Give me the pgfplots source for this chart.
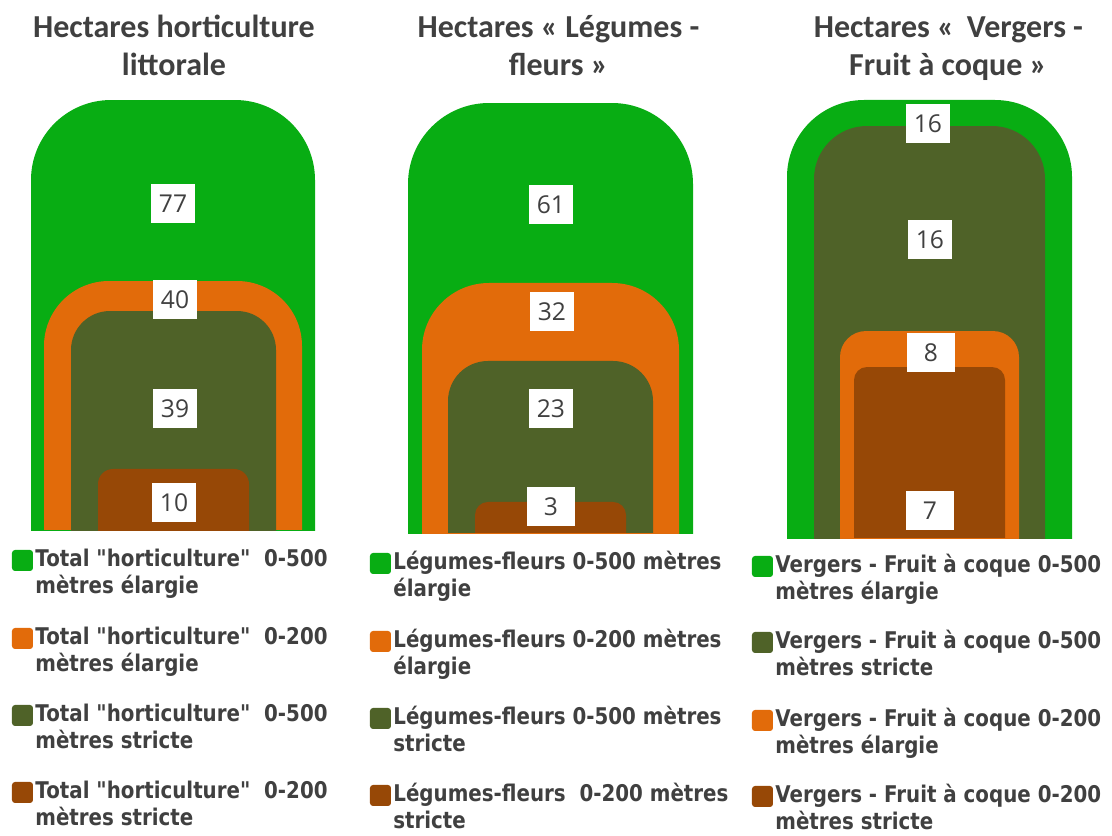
\documentclass[border=0pt]{standalone}
\usepackage{pgfplots}
\pgfplotsset{compat=1.18}
\usepackage{fontspec}
\setmainfont{Carlito}
\newfontfamily\numfont{Open Sans}
\newfontfamily\legfont{DejaVu Sans}[FakeStretch=0.862]
\definecolor{cGreen}{RGB}{8,173,19}
\definecolor{cOrange}{RGB}{226,107,10}
\definecolor{cOlive}{RGB}{79,98,40}
\definecolor{cBrown}{RGB}{151,72,6}
\definecolor{cText}{RGB}{64,64,64}
\pgfplotsset{
  base/.style={scale only axis, hide axis, anchor=south west, ymin=0, clip=true},
  pA/.style={base, at={(15.5bp,-265bp)}, width=142bp, height=215bp, xmin=31, xmax=315},
  pB/.style={base, at={(204bp,-266.5bp)}, width=142.5bp, height=215bp, xmin=408, xmax=693},
  pC/.style={base, at={(393.5bp,-269bp)}, width=142.5bp, height=219bp, xmin=787, xmax=1072},
}
\newcommand{\legitem}[6]{% sq x, text x, baseline, colour, line1, line2
  \fill[#4, rounded corners=1.5bp] (#1,#3-17) rectangle (#1+21,#3+4);
  \node[anchor=base west, inner sep=0pt, text=cText, font=\legfont\bfseries\fontsize{11.5bp}{13.5bp}\selectfont] at (#2,#3) {#5};
  \node[anchor=base west, inner sep=0pt, text=cText, font=\legfont\bfseries\fontsize{11.5bp}{13.5bp}\selectfont] at (#2,#3+27) {#6};
}
\begin{document}
\begin{tikzpicture}
\path[use as bounding box] (0,0) rectangle (556bp,-418bp);
% ---------- Panel 1 : horticulture littorale ----------
\begin{axis}[pA, ymax=77]
\addplot[fill=cGreen, draw=none, rounded corners=40bp] coordinates {(31,-77) (31,77) (315,77) (315,-77)};
\end{axis}
\begin{axis}[pA, ymax=69.08]
\addplot[fill=cOrange, draw=none, rounded corners=32.5bp] coordinates {(44,-70) (44,40) (302,40) (302,-70)};
\end{axis}
\begin{axis}[pA, ymax=76.58]
\addplot[fill=cOlive, draw=none, rounded corners=19.5bp] coordinates {(71,-77) (71,39) (276,39) (276,-77)};
\end{axis}
\begin{axis}[pA, ymax=70.49]
\addplot[fill=cBrown, draw=none, rounded corners=7.5bp] coordinates {(98,-70) (98,10) (249,10) (249,-70)};
\end{axis}
% ---------- Panel 2 : Legumes - fleurs ----------
\begin{axis}[pB, ymax=61]
\addplot[fill=cGreen, draw=none, rounded corners=40.5bp] coordinates {(408,-61) (408,61) (693,61) (693,-61)};
\end{axis}
\begin{axis}[pB, ymax=55.04]
\addplot[fill=cOrange, draw=none, rounded corners=33.5bp] coordinates {(422,-55) (422,32) (679,32) (679,-55)};
\end{axis}
\begin{axis}[pB, ymax=57.5]
\addplot[fill=cOlive, draw=none, rounded corners=20bp] coordinates {(448,-57) (448,23) (653,23) (653,-57)};
\end{axis}
\begin{axis}[pB, ymax=41.6]
\addplot[fill=cBrown, draw=none, rounded corners=6.5bp] coordinates {(475,-41) (475,3) (626,3) (626,-41)};
\end{axis}
% ---------- Panel 3 : Vergers - Fruit a coque ----------
\begin{axis}[pC, ymax=16]
\addplot[fill=cGreen, draw=none, rounded corners=38.5bp] coordinates {(787,-16) (787,16) (1072,16) (1072,-16)};
\end{axis}
\begin{axis}[pC, ymax=17.01]
\addplot[fill=cOlive, draw=none, rounded corners=26.5bp] coordinates {(814,-17) (814,16) (1045,16) (1045,-17)};
\end{axis}
\begin{axis}[pC, ymax=16.93]
\addplot[fill=cOrange, draw=none, rounded corners=13bp] coordinates {(840,-17) (840,8) (1019,8) (1019,-17)};
\end{axis}
\begin{axis}[pC, ymax=17.93]
\addplot[fill=cBrown, draw=none, rounded corners=6.5bp] coordinates {(854,-18) (854,7) (1005,7) (1005,-18)};
\end{axis}
% ---------- labels, titles, legends (pixel grid) ----------
\begin{scope}[x=0.5bp, y=-0.5bp,
  lab/.style={fill=white, text=cText, inner sep=0pt, minimum height=19.5bp, minimum width=#1, font=\numfont\fontsize{12.3bp}{14bp}\selectfont},
  lab/.default=22bp,
  ttl/.style={anchor=base, inner sep=0pt, text=cText, font=\bfseries\fontsize{16bp}{19.5bp}\selectfont}]
\node[lab] at (173,204) {77};
\node[lab] at (175,300) {40};
\node[lab] at (175,409) {39};
\node[lab] at (174,503) {10};
\node[lab] at (551,205) {61};
\node[lab] at (552,312) {32};
\node[lab] at (551,409) {23};
\node[lab=24bp] at (551,507) {3};
\node[lab] at (928,124) {16};
\node[lab] at (930,240) {16};
\node[lab=24bp] at (931,353) {8};
\node[lab=24bp] at (930,511) {7};
% titles
\node[ttl] at (174,37) {Hectares horticulture};
\node[ttl] at (174,76) {littorale};
\node[ttl] at (558.5,37) {Hectares « Légumes -};
\node[ttl] at (558.5,76) {fleurs »};
\node[ttl] at (948.5,37) {Hectares «\, Vergers -};
\node[ttl] at (948,76) {Fruit à coque »};
% legends
\legitem{12}{35}{567}{cGreen}{Total "horticulture"~ 0-500}{mètres élargie}
\legitem{12}{35}{645}{cOrange}{Total "horticulture"~ 0-200}{mètres élargie}
\legitem{12}{35}{722}{cOlive}{Total "horticulture"~ 0-500}{mètres stricte}
\legitem{12}{35}{799}{cBrown}{Total "horticulture"~ 0-200}{mètres stricte}
\legitem{370}{393}{570}{cGreen}{Légumes-fleurs 0-500 mètres}{élargie}
\legitem{370}{393}{648}{cOrange}{Légumes-fleurs 0-200 mètres}{élargie}
\legitem{370}{393}{725}{cOlive}{Légumes-fleurs 0-500 mètres}{stricte}
\legitem{370}{393}{802}{cBrown}{Légumes-fleurs~ 0-200 mètres}{stricte}
\legitem{752}{775}{573}{cGreen}{Vergers - Fruit à coque 0-500}{mètres élargie}
\legitem{752}{775}{649}{cOlive}{Vergers - Fruit à coque 0-500}{mètres stricte}
\legitem{752}{775}{727}{cOrange}{Vergers - Fruit à coque 0-200}{mètres élargie}
\legitem{752}{775}{803}{cBrown}{Vergers - Fruit à coque 0-200}{mètres stricte}
\end{scope}
\end{tikzpicture}
\end{document}
